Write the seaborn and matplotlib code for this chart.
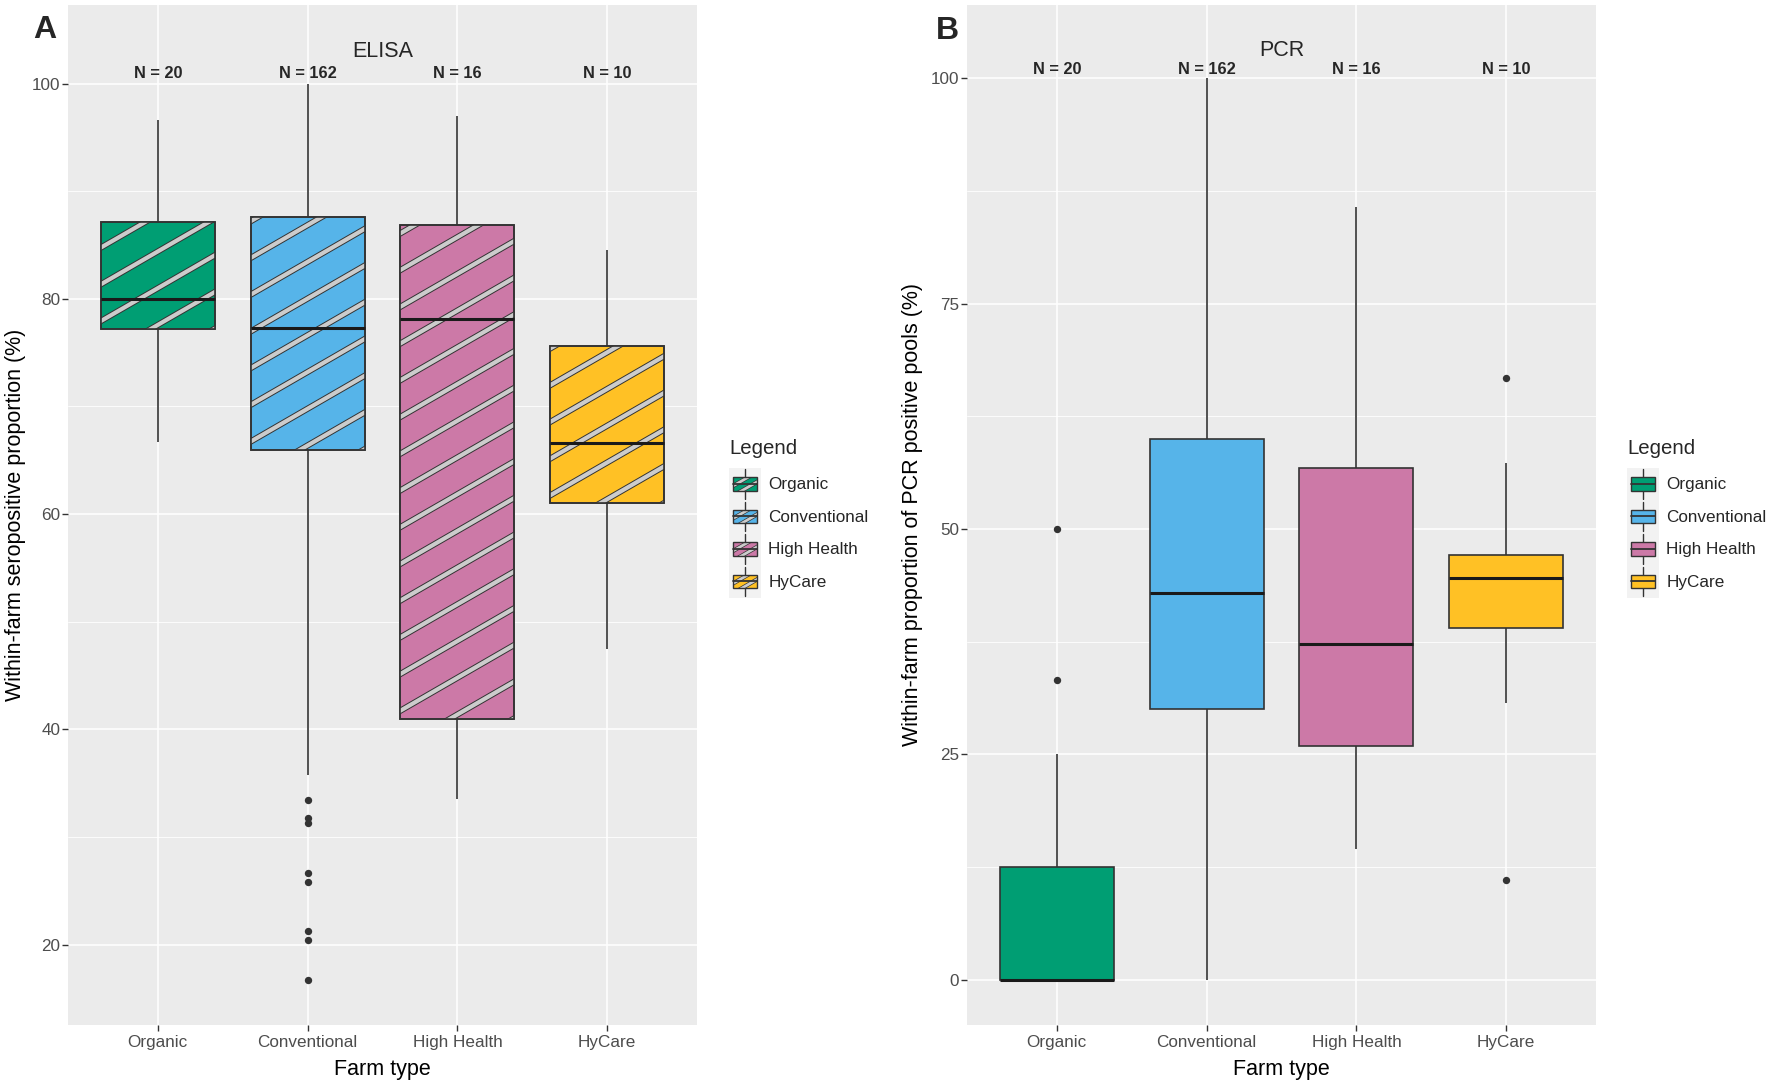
import numpy as np
import pandas as pd
import matplotlib
matplotlib.use("Agg")
import matplotlib.pyplot as plt
import seaborn as sns
from matplotlib.patches import Patch, Rectangle, PathPatch
from matplotlib.lines import Line2D
from matplotlib.legend_handler import HandlerBase
from matplotlib.transforms import IdentityTransform

categories = ["Organic", "Conventional", "High Health", "HyCare"]
n_farms = [20, 162, 16, 10]
colors = ["#009E73", "#56B4E9", "#CC79A7", "#FFC125"]

# lower whisker, Q1, median, Q3, upper whisker
elisa_organic = [66.7, 77.2, 80.0, 87.1, 96.6]
elisa_conventional = [35.8, 66.0, 77.3, 87.6, 100.0]
elisa_high_health = [33.5, 41.0, 78.1, 86.9, 97.0]
elisa_hycare = [47.5, 61.0, 66.6, 75.6, 84.5]
elisa_outliers_conventional = [33.4, 31.8, 31.3, 26.7, 25.8, 21.3, 20.4, 16.7]

pcr_organic = [0.0, 0.0, 0.0, 12.5, 25.0]
pcr_conventional = [0.0, 30.0, 42.9, 60.0, 100.0]
pcr_high_health = [14.5, 25.9, 37.2, 56.8, 85.7]
pcr_hycare = [30.7, 39.0, 44.6, 47.1, 57.3]
pcr_outliers_organic = [50.0, 33.3]
pcr_outliers_hycare = [66.7, 11.1]

LINE = "#333333"
TXT = "#4D4D4D"

sns.set_theme(style="darkgrid", rc={"axes.facecolor": "#EBEBEB", "grid.color": "white"})
plt.rcParams["font.family"] = ["Liberation Sans", "DejaVu Sans"]

elisa_df = pd.DataFrame({
    "farm": np.repeat(categories, 5),
    "value": np.concatenate([elisa_organic, elisa_conventional, elisa_high_health, elisa_hycare]),
})
elisa_out = pd.DataFrame({"farm": ["Conventional"] * len(elisa_outliers_conventional),
                          "value": elisa_outliers_conventional})
pcr_df = pd.DataFrame({
    "farm": np.repeat(categories, 5),
    "value": np.concatenate([pcr_organic, pcr_conventional, pcr_high_health, pcr_hycare]),
})
pcr_out = pd.DataFrame({"farm": ["Organic"] * len(pcr_outliers_organic) + ["HyCare"] * len(pcr_outliers_hycare),
                        "value": pcr_outliers_organic + pcr_outliers_hycare})


def stripe_lines(xy0, xy1, spacing, offset=8.0):
    # stripes at 30 degrees, in display pixels
    ang = np.deg2rad(30)
    d = np.array([np.cos(ang), np.sin(ang)])
    nrm = np.array([-np.sin(ang), np.cos(ang)])
    x0, y0 = xy0
    x1, y1 = xy1
    cs = [np.dot((x, y), nrm) for x in (x0, x1) for y in (y0, y1)]
    c0 = np.dot((x0, y0), nrm) + offset * np.cos(ang)
    centre = np.array([(x0 + x1) / 2, (y0 + y1) / 2])
    t0 = np.dot(centre, d)
    L = abs(x1 - x0) + abs(y1 - y0)
    segs = []
    k0 = int(np.floor((min(cs) - c0) / spacing)) - 1
    k1 = int(np.ceil((max(cs) - c0) / spacing)) + 1
    for k in range(k0, k1 + 1):
        p = (c0 + k * spacing) * nrm + t0 * d
        a, b = p - L * d, p + L * d
        segs.append(([a[0], b[0]], [a[1], b[1]]))
    return segs


def add_stripes(ax, patch):
    path = patch.get_path().transformed(patch.get_transform())
    (x0, y0), (x1, y1) = path.get_extents().get_points()
    for xs, ys in stripe_lines((x0, y0), (x1, y1), 31.8):
        for lw, col, z in [(4.4, LINE, 2.05), (3.0, "#CCCCCC", 2.06)]:
            ln = Line2D(xs, ys, color=col, lw=lw, solid_capstyle="butt",
                        transform=IdentityTransform(), zorder=z)
            ln.set_clip_path(patch)
            ax.add_artist(ln)
    ax.add_artist(PathPatch(patch.get_path(), transform=patch.get_transform(), fill=False,
                            ec=LINE, lw=patch.get_linewidth(), zorder=2.08))


class BoxKey(HandlerBase):
    def __init__(self, striped=False):
        super().__init__()
        self.striped = striped

    def create_artists(self, legend, orig_handle, xdescent, ydescent, width, height, fontsize, trans):
        x0, y0 = -xdescent, -ydescent
        cx, cy = x0 + width / 2, y0 + height / 2
        bw, bh = width * 0.76, height * 0.42
        arts = [Rectangle((x0, y0), width, height, fc="#F2F2F2", ec="none", transform=trans),
                Line2D([cx, cx], [y0 + 1, y0 + height - 1], color=LINE, lw=1.0, transform=trans)]
        box = Rectangle((cx - bw / 2, cy - bh / 2), bw, bh, fc=orig_handle.get_facecolor(),
                        ec="none", transform=trans)
        arts.append(box)
        if self.striped:
            for s in (-0.18, 0.18):
                xs = [cx - bw, cx + bw]
                ys = [cy + s * bh * 2 - bw * 0.577, cy + s * bh * 2 + bw * 0.577]
                for lw, col in [(3.0, LINE), (2.0, "#CCCCCC")]:
                    ln = Line2D(xs, ys, color=col, lw=lw, transform=trans, solid_capstyle="butt")
                    ln.set_clip_path(box)
                    arts.append(ln)
        arts.append(Rectangle((cx - bw / 2, cy - bh / 2), bw, bh, fill=False, ec=LINE, lw=1.0,
                              transform=trans))
        arts.append(Line2D([cx - bw / 2, cx + bw / 2], [cy, cy], color=LINE, lw=1.3, transform=trans))
        return arts


def draw_panel(ax, box_df, out_df, ylabel, title, ylim, major, minor, striped, label_x):
    sns.boxplot(data=box_df, x="farm", y="value", hue="farm", order=categories, hue_order=categories,
                palette=colors, saturation=1, width=0.76, whis=(0, 100), showfliers=False,
                showcaps=False, linecolor=LINE, linewidth=1.2, legend=False,
                medianprops=dict(color="#1A1A1A", linewidth=2.2, zorder=3), ax=ax)
    sns.stripplot(data=out_df, x="farm", y="value", order=categories, jitter=False,
                  color=LINE, size=5.3, linewidth=0, zorder=4, ax=ax)
    ax.set_xlim(-0.6, 3.6)
    ax.set_ylim(*ylim)
    ax.set_yticks(major)
    ax.set_yticks(minor, minor=True)
    ax.set_xticks(range(len(categories)))
    ax.set_xticklabels(categories)
    ax.grid(True, which="major", color="white", lw=1.1)
    ax.grid(True, which="minor", axis="y", color="white", lw=0.6)
    ax.grid(False, which="minor", axis="x")
    ax.set_axisbelow(True)
    for sp in ax.spines.values():
        sp.set_visible(False)
    ax.tick_params(axis="both", which="major", length=4, width=1.0, color=LINE,
                   labelsize=12.3, labelcolor=TXT, left=True, bottom=True)
    ax.tick_params(axis="x", pad=3)
    ax.tick_params(axis="y", pad=1.5)
    ax.tick_params(which="minor", length=0)
    ax.set_xlabel("Farm type", fontsize=15.5, color="black", va="center")
    ax.xaxis.set_label_coords(0.5, -0.044)
    ax.set_ylabel(ylabel, fontsize=15.5, color="black", va="center")
    ax.yaxis.set_label_coords(label_x, 0.5)
    for i, n in enumerate(n_farms):
        ax.text(i, 100.95, f"N = {n}", ha="center", va="center", fontweight="bold", fontsize=11.8)
    ax.text(1.5, 103.0, title, ha="center", va="center", fontsize=15.5)
    if striped:
        for patch in list(ax.patches)[:len(categories)]:
            add_stripes(ax, patch)


W, H = 1774, 1088
fig = plt.figure(figsize=(W / 100, H / 100), dpi=100)
ax_a = fig.add_axes([68 / W, 1 - 1025 / H, 629 / W, 1020 / H])
ax_b = fig.add_axes([967 / W, 1 - 1025 / H, 629 / W, 1020 / H])

draw_panel(ax_a, elisa_df, elisa_out, "Within-farm seropositive proportion (%)", "ELISA",
           (12.54, 107.3), [20, 40, 60, 80, 100], [30, 50, 70, 90], True, -0.084)
draw_panel(ax_b, pcr_df, pcr_out, "Within-farm proportion of PCR positive pools (%)", "PCR",
           (-5.0, 108.1), [0, 25, 50, 75, 100], [12.5, 37.5, 62.5, 87.5], False, -0.0874)

fig.text(45 / W, 1 - 30 / H, "A", fontsize=23, fontweight="bold", ha="center", va="center")
fig.text(947 / W, 1 - 31 / H, "B", fontsize=23, fontweight="bold", ha="center", va="center")

for x_left, striped in [(729, True), (1627, False)]:
    handles = [Patch(facecolor=c, label=cat) for c, cat in zip(colors, categories)]
    leg = fig.legend(handles=handles, handler_map={Patch: BoxKey(striped)}, loc="upper left",
                     bbox_to_anchor=(x_left / W, 1 - 439 / H), bbox_transform=fig.transFigure,
                     frameon=False, title="Legend", title_fontsize=14.7, fontsize=12.3,
                     handlelength=1.87, handleheight=2.55, labelspacing=0, handletextpad=0.44,
                     borderpad=0, borderaxespad=0, alignment="left")
    leg._legend_box.sep = 7.0

fig.savefig("out.png", dpi=100, facecolor="white")
